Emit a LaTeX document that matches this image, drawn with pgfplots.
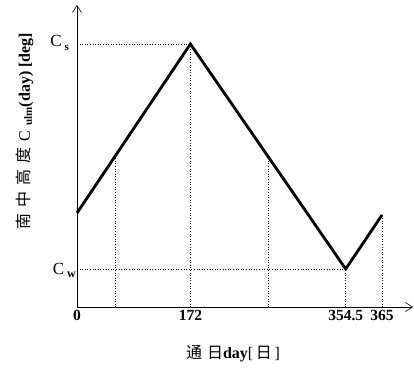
\documentclass[border=0pt]{standalone}
\usepackage{fontspec}
\setmainfont{Liberation Serif}
\newfontfamily\cjk{Noto Sans CJK SC}
\usepackage{pgfplots}
\pgfplotsset{compat=1.18}
\usetikzlibrary{arrows.meta}
\begin{document}
\begin{tikzpicture}[x=1pt,y=1pt]
\path[use as bounding box] (-77,-62) rectangle (337,307);
\begin{axis}[
  at={(0,0)}, anchor=south west,
  width=336pt, height=302pt, scale only axis,
  xmin=0, xmax=336, ymin=0, ymax=302,
  axis lines=left,
  axis line style={line width=0.6pt, -{Straight Barb[length=7pt,width=9pt]}},
  xtick={0,113.4,268.7,305},
  xticklabels={0,172,354.5,365},
  ytick=\empty,
  major tick length=0pt,
  /pgf/number format/assume math mode=true,
  xticklabel style={anchor=center, yshift=-8pt, font=\bfseries\fontsize{15.5}{15.5}\selectfont},
  clip=false,
]
% dotted guide lines
\addplot[black, dotted, line width=0.6pt] coordinates {(0,263) (113.4,263)};
\addplot[black, dotted, line width=0.6pt] coordinates {(0,38) (268.7,38)};
\addplot[black, dotted, line width=0.6pt] coordinates {(38.7,0) (38.7,150)};
\addplot[black, dotted, line width=0.6pt] coordinates {(113.4,0) (113.4,263)};
\addplot[black, dotted, line width=0.6pt] coordinates {(191.7,0) (191.7,150)};
\addplot[black, dotted, line width=0.6pt] coordinates {(268.7,0) (268.7,38)};
\addplot[black, dotted, line width=0.6pt] coordinates {(305,0) (305,92)};
% main curve
\addplot[black, line width=2.8pt, line join=miter] coordinates {(0,94) (113.4,263) (268.7,38) (305,92)};
% labels
\node[anchor=east, inner sep=0pt] at (axis cs:-8,264) {\fontsize{17}{17}\selectfont C\,\raisebox{-4pt}{\bfseries\fontsize{11}{11}\selectfont s}};
\node[anchor=east, inner sep=0pt] at (axis cs:-1,37) {\fontsize{17}{17}\selectfont C\,\raisebox{-3pt}{\bfseries\fontsize{12}{12}\selectfont w}};
\node[rotate=90, anchor=center, inner sep=0pt] at (axis cs:-52,176) {\fontsize{16}{16}\selectfont{\cjk 南\hspace{6pt}中\hspace{6pt}高\hspace{6pt}度}\hspace{6pt}C\hspace{5pt}\raisebox{-2pt}{\bfseries\fontsize{11}{11}\selectfont ulm}\bfseries(day)\ [deg]};
\node[anchor=center, inner sep=0pt] at (axis cs:156,-47) {\fontsize{16}{16}\selectfont{\cjk 通\hspace{5pt}日}\textbf{day}[\,{\cjk 日}\,]};
\end{axis}
\end{tikzpicture}
\end{document}
